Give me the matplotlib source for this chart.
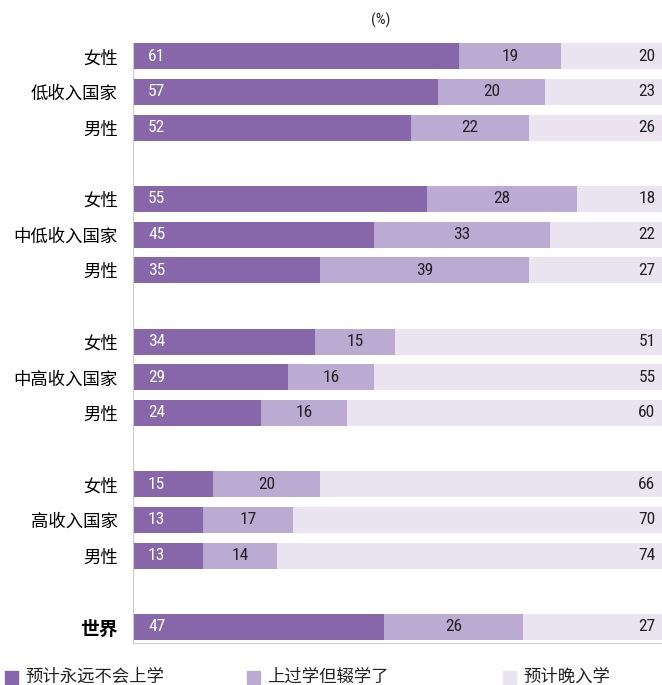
import matplotlib
matplotlib.use("Agg")
import matplotlib.pyplot as plt
from matplotlib import font_manager
from matplotlib.patches import Rectangle

# data
labels = ["女性", "低收入国家", "男性",
          "女性", "中低收入国家", "男性",
          "女性", "中高收入国家", "男性",
          "女性", "高收入国家", "男性",
          "世界"]
rows = [0, 1, 2, 4, 5, 6, 8, 9, 10, 12, 13, 14, 16]
never = [61, 57, 52, 55, 45, 35, 34, 29, 24, 15, 13, 13, 47]
dropped = [19, 20, 22, 28, 33, 39, 15, 16, 16, 20, 17, 14, 26]
late = [20, 23, 26, 18, 22, 27, 51, 55, 60, 66, 70, 74, 27]
series_names = ["预计永远不会上学", "上过学但辍学了", "预计晚入学"]
colors = ["#8866AA", "#BBABD3", "#EAE4F1"]

installed = {f.name for f in font_manager.fontManager.ttflist}
num_font = "DejaVu Sans"
for cand in ["Liberation Sans Narrow", "Roboto Condensed", "Open Sans Condensed", "Roboto"]:
    if cand in installed:
        num_font = cand
        break
cjk = ["Noto Sans CJK SC", "DejaVu Sans"]
plt.rcParams["font.family"] = cjk

fig = plt.figure(figsize=(6.62, 6.85), dpi=100)
ax = fig.add_axes([133 / 662, 1 - 643 / 685, 1 - 133 / 662, (643 - 43) / 685])

ax.barh(rows, never, height=0.73, color=colors[0])
ax.barh(rows, dropped, left=never, height=0.73, color=colors[1])
left2 = [a + b for a, b in zip(never, dropped)]
ax.barh(rows, late, left=left2, height=0.73, color=colors[2])

xmax = 98.9
for r, a, b, c in zip(rows, never, dropped, late):
    ax.text(2.8, r, str(a), color="white", ha="left", va="center",
            fontsize=12.5, family=num_font)
    ax.text(a + b / 2, r, str(b), color="#222222", ha="center", va="center",
            fontsize=12.5, family=num_font)
    ax.text(xmax - 1.2, r, str(c), color="#222222", ha="right", va="center",
            fontsize=12.5, family=num_font)

ax.set_xlim(0, xmax)
ax.set_ylim(16.45, -0.37)
ax.set_yticks(rows)
ax.set_yticklabels(labels, fontsize=12.5)
for t in ax.get_yticklabels():
    if t.get_text() == "世界":
        t.set_fontsize(13.5)
        t.set_fontweight("bold")
ax.tick_params(axis="y", length=0, pad=11)
ax.set_xticks([])
ax.spines["top"].set_visible(False)
ax.spines["right"].set_visible(False)
ax.spines["left"].set_color("#cccccc")
ax.spines["bottom"].set_color("#cccccc")

fig.text(381 / 662, 1 - 20 / 685, "(%)", ha="center", va="center",
         fontsize=11, family=num_font, color="#222222")

# legend
leg_x = [5, 247, 503]
for x0, name, col in zip(leg_x, series_names, colors):
    fig.patches.append(Rectangle((x0 / 662, 1 - 684 / 685), 13 / 662, 13 / 685,
                                 transform=fig.transFigure, color=col))
    fig.text((x0 + 20) / 662, 1 - 677 / 685, name, ha="left", va="center",
             fontsize=12.5, color="#222222")

fig.savefig("out.png", dpi=100)
